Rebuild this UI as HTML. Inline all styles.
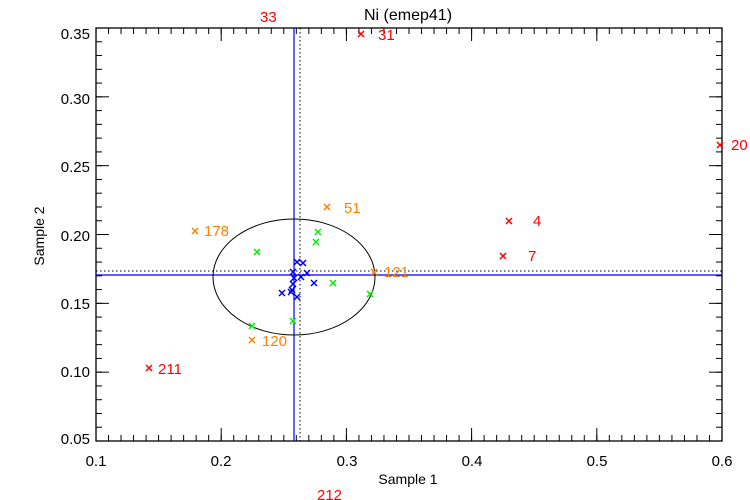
<!DOCTYPE html>
<html><head><style>body{margin:0;background:#fff}svg{display:block}text{font-family:"Liberation Sans",sans-serif}</style></head><body>
<svg width="750" height="500" viewBox="0 0 750 500" xmlns="http://www.w3.org/2000/svg">
<defs>
<g id="x"><path d="M-3,-3L3,3M-3,3L3,-3" stroke-width="1.5"/></g>
<pattern id="pxm" patternUnits="userSpaceOnUse" x="95.5" y="0" width="12.52" height="500"><rect x="0" y="0" width="1" height="500" fill="#000"/></pattern>
<pattern id="pxM" patternUnits="userSpaceOnUse" x="95.5" y="0" width="125.2" height="500"><rect x="0" y="0" width="1" height="500" fill="#000"/></pattern>
<pattern id="pym" patternUnits="userSpaceOnUse" x="0" y="27.5" width="750" height="13.767"><rect x="0" y="0" width="750" height="1" fill="#000"/></pattern>
<pattern id="pyM" patternUnits="userSpaceOnUse" x="0" y="27.5" width="750" height="68.835"><rect x="0" y="0" width="750" height="1" fill="#000"/></pattern>
</defs>
<rect x="95.5" y="435" width="628" height="6" fill="url(#pxm)"/>
<rect x="95.5" y="428" width="628" height="13" fill="url(#pxM)"/>
<rect x="95.5" y="28" width="628" height="6" fill="url(#pxm)"/>
<rect x="95.5" y="28" width="628" height="13" fill="url(#pxM)"/>
<rect x="96" y="27.5" width="6" height="415" fill="url(#pym)"/>
<rect x="96" y="27.5" width="13" height="415" fill="url(#pyM)"/>
<rect x="716" y="27.5" width="6" height="415" fill="url(#pym)"/>
<rect x="709" y="27.5" width="13" height="415" fill="url(#pyM)"/>
<rect x="96" y="28" width="626" height="413" fill="none" stroke="#000" stroke-width="1.3"/>
<text x="408" y="20" font-size="16" text-anchor="middle">Ni (emep41)</text>
<text x="408" y="484" font-size="14" text-anchor="middle">Sample 1</text>
<text x="44" y="236" font-size="14" text-anchor="middle" transform="rotate(-90 44 236)">Sample 2</text>
<g font-size="15" fill="#000">
<text x="96" y="466" text-anchor="middle">0.1</text><text x="221" y="466" text-anchor="middle">0.2</text><text x="347" y="466" text-anchor="middle">0.3</text><text x="472" y="466" text-anchor="middle">0.4</text><text x="597" y="466" text-anchor="middle">0.5</text><text x="722" y="466" text-anchor="middle">0.6</text>
<g text-anchor="end"><text x="90" y="39">0.35</text><text x="90" y="104">0.30</text><text x="90" y="172">0.25</text><text x="90" y="241">0.20</text><text x="90" y="309">0.15</text><text x="90" y="377">0.10</text><text x="90" y="444">0.05</text></g>
</g>
<line x1="294" y1="28" x2="294" y2="441" stroke="#0000ff" stroke-width="1.2"/>
<line x1="300" y1="28" x2="300" y2="441" stroke="#000" stroke-dasharray="1.5,2.5"/>
<line x1="96" y1="275" x2="722" y2="275" stroke="#0000ff" stroke-width="1.2"/>
<line x1="96" y1="271" x2="722" y2="271" stroke="#000" stroke-dasharray="1.5,2.5"/>
<ellipse cx="294" cy="277" rx="81" ry="58" fill="none" stroke="#000" stroke-width="1"/>
<g stroke="#0000ff">
<use href="#x" x="297" y="262"/><use href="#x" x="303" y="263"/><use href="#x" x="293" y="272"/><use href="#x" x="301" y="277"/><use href="#x" x="307" y="273"/><use href="#x" x="294" y="278"/><use href="#x" x="293" y="284"/><use href="#x" x="292" y="290"/><use href="#x" x="314" y="283"/><use href="#x" x="282" y="293"/><use href="#x" x="297" y="297"/><use href="#x" x="291" y="292"/>
</g>
<g stroke="#00ee00">
<use href="#x" x="318" y="232"/><use href="#x" x="316" y="242"/><use href="#x" x="257" y="252"/><use href="#x" x="333" y="283"/><use href="#x" x="370" y="294"/><use href="#x" x="293" y="321"/><use href="#x" x="252" y="326"/>
</g>
<g stroke="#ff7f00"><use href="#x" x="327" y="207"/><use href="#x" x="195" y="231"/><use href="#x" x="374" y="272"/><use href="#x" x="252" y="340"/></g>
<g fill="#ff7f00" font-size="15"><text x="344" y="213">51</text><text x="204" y="236">178</text><text x="384" y="277">121</text><text x="262" y="346">120</text></g>
<g stroke="#ff0000"><use href="#x" x="361" y="34"/><use href="#x" x="509" y="221"/><use href="#x" x="503" y="256"/><use href="#x" x="149" y="368"/><use href="#x" x="720" y="145"/></g>
<g fill="#ff0000" font-size="15"><text x="378" y="40">31</text><text x="533" y="226">4</text><text x="528" y="261">7</text><text x="158" y="374">211</text><text x="731" y="150">20</text><text x="260" y="22">33</text><text x="317" y="500">212</text></g>
</svg>
</body></html>
